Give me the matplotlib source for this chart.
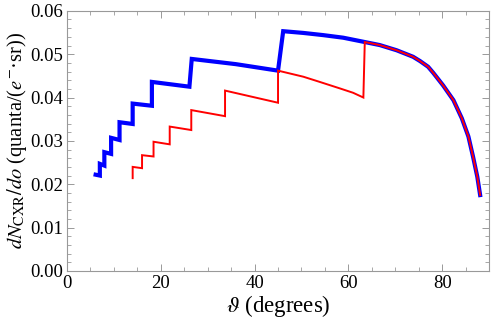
import numpy as np
import matplotlib
matplotlib.use("Agg")
import matplotlib.pyplot as plt
from matplotlib.ticker import MultipleLocator, FormatStrFormatter

plt.rcParams["font.family"] = "Liberation Serif"
plt.rcParams["mathtext.fontset"] = "stix"

# common high-angle part (both curves coincide)
tail_theta = [63.5, 66.7, 70.3, 73.8, 75.3, 77.0, 78.1, 80.2, 82.4, 84.2, 85.6,
              86.6, 87.5, 88.1]
tail_val = [0.0528, 0.0521, 0.0509, 0.0494, 0.0484, 0.0471, 0.0457, 0.0428, 0.0394,
            0.0352, 0.0310, 0.0263, 0.0217, 0.0175]

# blue curve (thick), degrees / yield
blue_theta = [6.1, 7.0, 7.0, 7.96, 7.96, 9.4, 9.4, 11.2, 11.2, 14.0, 14.0, 18.1, 18.1,
              26.1, 26.6, 36.0, 45.0, 46.1, 50.4, 54.6, 58.9] + tail_theta
blue_val = [0.0222, 0.0220, 0.0247, 0.0243, 0.0274, 0.0270, 0.0307, 0.0302, 0.0343,
            0.0339, 0.0386, 0.0381, 0.0436, 0.0425, 0.0489, 0.0477, 0.0462, 0.0553,
            0.0549, 0.0544, 0.0538] + tail_val

# red curve (thin)
red_theta = [14.0, 14.0, 16.0, 16.0, 18.45, 18.45, 21.9, 21.9, 26.5, 26.5, 33.7, 33.7,
             45.0, 45.0, 50.4, 53.9, 58.2, 61.0, 63.2] + tail_theta
red_val = [0.0214, 0.0240, 0.0237, 0.0267, 0.0264, 0.0298, 0.0292, 0.0333, 0.0325,
           0.0371, 0.0357, 0.0416, 0.0388, 0.0462, 0.0448, 0.0436, 0.0421, 0.0411,
           0.0400] + tail_val

fig = plt.figure(figsize=(4.91, 3.28), dpi=100)
ax = fig.add_axes([0.1365, 0.174, 0.8595, 0.793])

ax.plot(blue_theta, blue_val, color="#0000ff", lw=3.0, solid_joinstyle="miter")
ax.plot(red_theta, red_val, color="#ff0000", lw=1.4, solid_joinstyle="miter")

ax.set_xlim(0, 90)
ax.set_ylim(0, 0.06)
ax.xaxis.set_major_locator(MultipleLocator(20))
ax.xaxis.set_minor_locator(MultipleLocator(5))
ax.yaxis.set_major_locator(MultipleLocator(0.01))
ax.yaxis.set_minor_locator(MultipleLocator(0.002))
ax.yaxis.set_major_formatter(FormatStrFormatter("%.2f"))

for s in ax.spines.values():
    s.set_color("#999999")
    s.set_linewidth(0.8)
ax.tick_params(which="both", direction="in", top=True, right=True, color="#999999",
               labelsize=13.5, labelcolor="black", pad=3)
ax.tick_params(which="major", length=5, width=0.7)
ax.tick_params(which="minor", length=3, width=0.6)

ax.set_xlabel(r"$\vartheta$ (degrees)", fontsize=16.5, labelpad=1)
ax.set_ylabel(r"$dN_{\mathrm{CXR}}/do$ (quanta/($e^{-}$·sr))", fontsize=14.8, labelpad=1)

fig.savefig("out.png", dpi=100)
